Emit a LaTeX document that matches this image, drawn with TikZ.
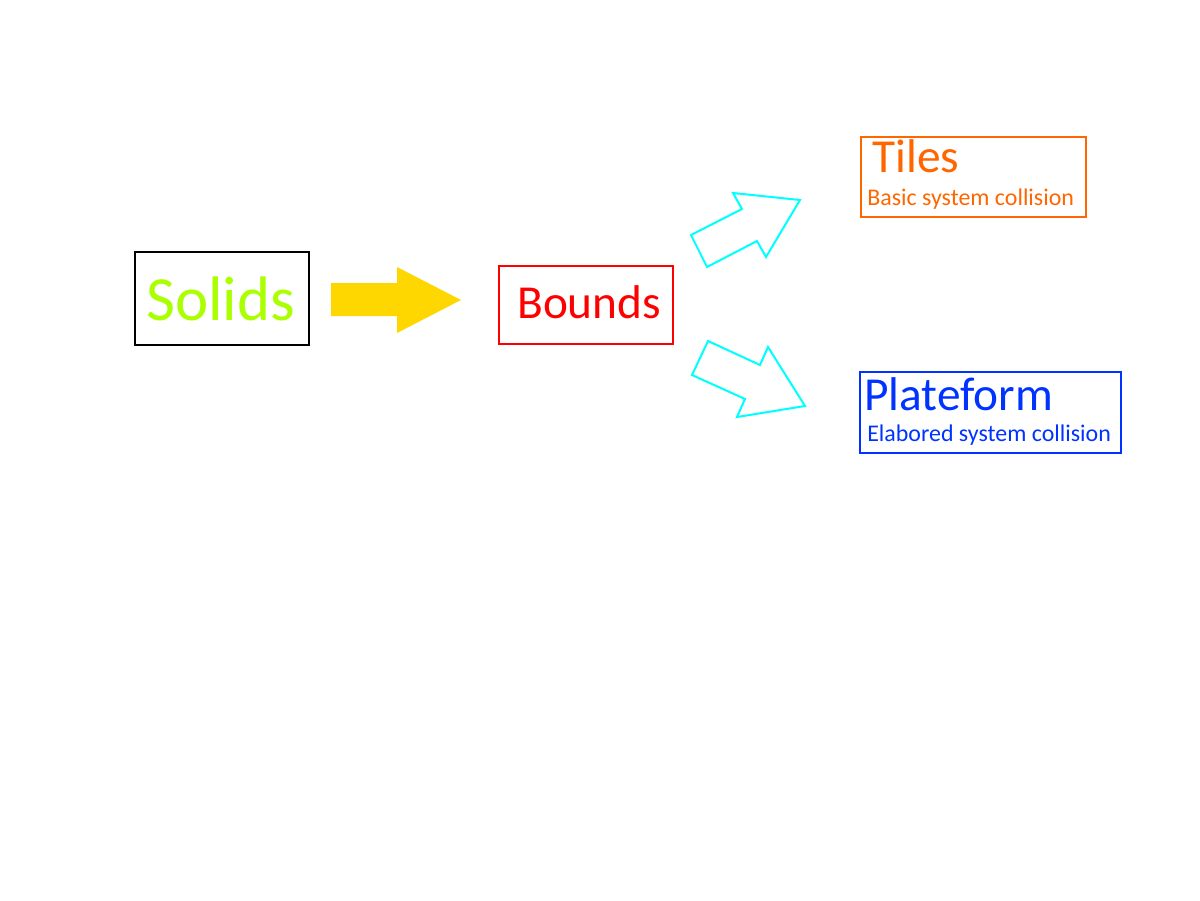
\documentclass[tikz,border=0pt]{standalone}
\usepackage{fontspec}
\setmainfont{Carlito}
\definecolor{solidgreen}{RGB}{170,255,0}
\definecolor{boundred}{RGB}{255,0,0}
\definecolor{tileorange}{RGB}{255,102,0}
\definecolor{plateblue}{RGB}{0,51,255}
\definecolor{arrowgold}{RGB}{255,215,0}
\definecolor{arrowcyan}{RGB}{0,255,255}
\newcommand{\titlefont}{\fontsize{35.5}{35.5}\selectfont}
\newcommand{\subfont}{\fontsize{17.95}{17.95}\selectfont}
\begin{document}
\begin{tikzpicture}[x=0.75pt,y=-0.75pt,
  box/.style={draw=#1,line width=1.5pt,rectangle,inner sep=0pt},
  lbl/.style={inner sep=0pt,anchor=base west}]
\useasboundingbox (0,0) rectangle (1200,900);

% boxes
\node[box=black,minimum width=130.5pt,minimum height=69.75pt] (solids) at (222,298.5) {};
\node[box=boundred,minimum width=130.5pt,minimum height=58.5pt] (bounds) at (586,305) {};
\node[box=tileorange,minimum width=168.75pt,minimum height=60pt] (tiles) at (973.5,177) {};
\node[box=plateblue,minimum width=195.75pt,minimum height=60.75pt] (plate) at (990.5,412.5) {};

% texts
\node[lbl,text=solidgreen,font=\fontsize{47.2}{47.2}\selectfont] (solidsTxt) at (146,320) {Solids};
\node[lbl,text=boundred,font=\titlefont] (boundsTxt) at (517,318) {Bounds};
\node[lbl,text=tileorange,font=\titlefont] (tilesTxt) at (872,172) {Tiles};
\node[lbl,text=tileorange,font=\subfont] (tilesSub) at (867,205) {Basic system collision};
\node[lbl,text=plateblue,font=\titlefont] (plateTxt) at (864,410) {Plateform};
\node[lbl,text=plateblue,font=\subfont] (plateSub) at (867,441) {Elabored system collision};

% block arrows
\fill[arrowgold] (331,283) -- (397,283) -- (397,267) -- (461,300) -- (397,333) -- (397,316) -- (331,316) -- cycle;
\draw[arrowcyan,line width=1.5pt] (691,235) -- (742,209) -- (733,193) -- (800,200) -- (766,257) -- (757,241) -- (707,267) -- cycle;
\draw[arrowcyan,line width=1.5pt] (708,341) -- (760,365) -- (768,347) -- (805,406) -- (737,417) -- (745,399) -- (692,375) -- cycle;
\end{tikzpicture}
\end{document}
